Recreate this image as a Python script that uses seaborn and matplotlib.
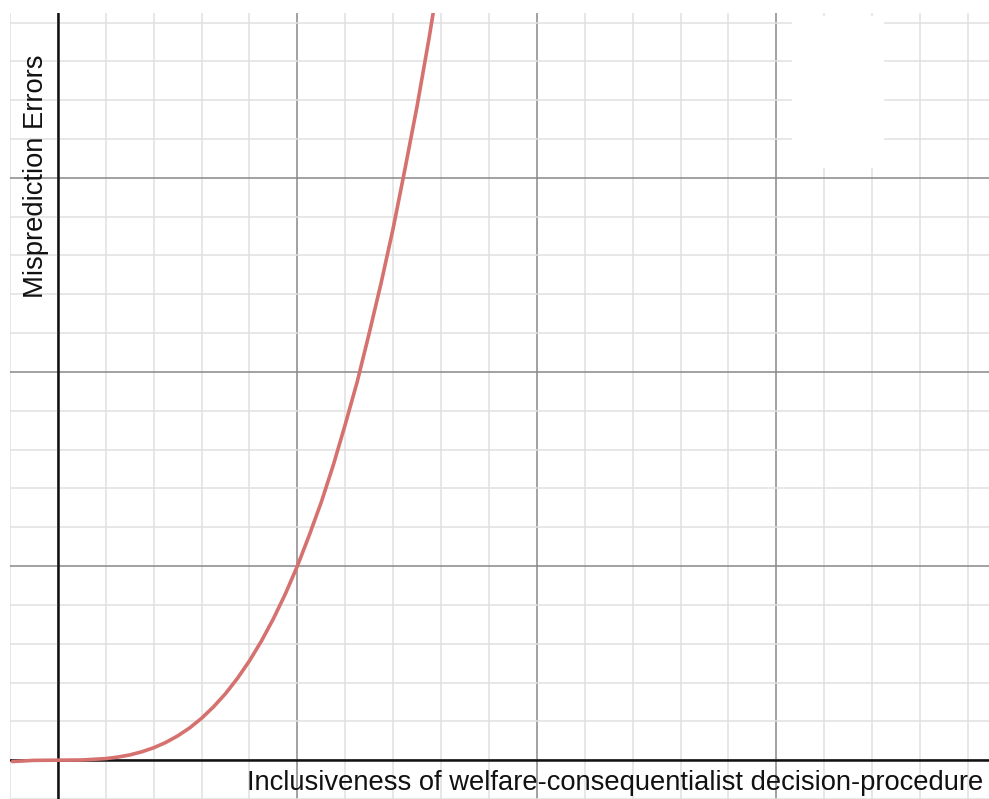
import numpy as np
import pandas as pd
import matplotlib
matplotlib.use("Agg")
import matplotlib.pyplot as plt
import seaborn as sns
from matplotlib.patches import Rectangle

# values (major grid units)
inclusiveness = [-0.19, -0.1, 0.0, 0.1, 0.2, 0.25, 0.3, 0.35, 0.4, 0.45,
                 0.5, 0.55, 0.6, 0.65, 0.7, 0.75, 0.8, 0.85, 0.9, 0.95,
                 1.0, 1.05, 1.1, 1.15, 1.2, 1.25, 1.3, 1.35, 1.4, 1.45,
                 1.5, 1.55, 1.6]
misprediction = [-0.007, -0.001, 0.0, 0.001, 0.008, 0.016, 0.027, 0.043,
                 0.064, 0.091, 0.125, 0.166, 0.216, 0.275, 0.343, 0.422,
                 0.512, 0.614, 0.729, 0.857, 1.0, 1.16, 1.33, 1.52, 1.73,
                 1.95, 2.2, 2.46, 2.74, 3.05, 3.37, 3.72, 4.1]

x_label = "Inclusiveness of welfare-consequentialist decision-procedure"
y_label = "Misprediction Errors"

df = pd.DataFrame({"x": inclusiveness, "y": misprediction})

sns.set_style("white")
plt.rcParams["font.family"] = ["Liberation Sans", "DejaVu Sans"]

fig = plt.figure(figsize=(9.89, 7.99), dpi=100)
ax = fig.add_axes([10 / 989, 0, 979 / 989, 786 / 799])

sns.lineplot(data=df, x="x", y="y", ax=ax, color="#d5716f", lw=2.6,
             zorder=3, sort=True)
ax.set_xlabel("")
ax.set_ylabel("")

ax.set_xlim(-0.187, 3.888)
ax.set_ylim(-0.182, 3.849)

ax.set_xticks(np.arange(0, 4, 1))
ax.set_xticks(np.arange(-0.2, 3.9, 0.2), minor=True)
ax.set_yticks(np.arange(0, 4, 1))
ax.set_yticks(np.arange(-0.2, 3.9, 0.2), minor=True)
ax.grid(which="minor", color="#e0e0e0", lw=1.1, zorder=0)
ax.grid(which="major", color="#888888", lw=1.1, zorder=1)
ax.tick_params(which="both", length=0, labelbottom=False, labelleft=False)
for s in ax.spines.values():
    s.set_visible(False)

ax.axhline(0, color="#111111", lw=1.8, zorder=2)
ax.axvline(0, color="#111111", lw=1.8, zorder=2)

# blank patch over the grid, as in the reference
fig.patches.append(Rectangle((792 / 989, 1 - 167 / 799), 91 / 989, 151 / 799,
                             transform=fig.transFigure, color="white",
                             zorder=5))

fig.text(983 / 989, 1 - 790 / 799, x_label, ha="right", va="baseline",
         fontsize=19.7, color="#111111")
fig.text(49 / 989, 1 - 176.5 / 799, y_label, rotation=90, ha="right",
         va="center", fontsize=19.7, color="#111111")

fig.savefig("out.png", dpi=100)
